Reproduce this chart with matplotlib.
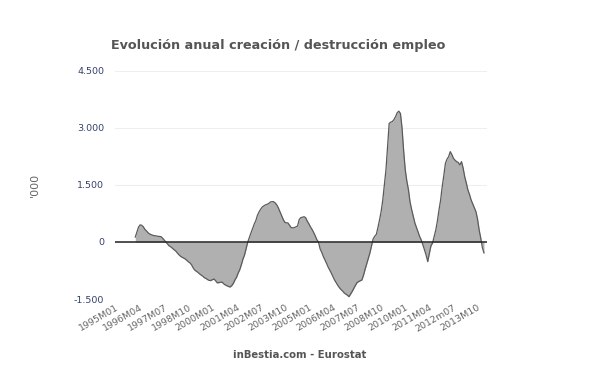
import numpy as np
import matplotlib
matplotlib.use('Agg')
import matplotlib.pyplot as plt

matplotlib.rc('font', family='DejaVu Sans')

# Datos (miles), mensual desde 1996M01
start_label = '1996M01'
empleo = [
    130, 260, 390, 450, 440, 400, 330, 290, 240, 210, 190, 175,            # 1996
    165, 160, 150, 145, 140, 100, 50, 0, -50, -100, -125, -160,            # 1997
    -200, -230, -280, -330, -370, -400, -420, -445, -480, -520, -550, -600,  # 1998
    -680, -740, -770, -800, -840, -870, -900, -940, -960, -990, -1010, -1015,  # 1999
    -990, -975, -1020, -1075, -1070, -1060, -1055, -1100, -1130, -1150, -1170, -1185,  # 2000
    -1150, -1090, -1000, -930, -820, -730, -600, -450, -340, -170, 0, 120,  # 2001
    240, 350, 470, 560, 700, 790, 860, 920, 950, 975, 990, 1010,           # 2002
    1050, 1060, 1060, 1030, 980, 900, 800, 700, 600, 520, 505, 500,        # 2003
    440, 380, 370, 380, 400, 420, 590, 640, 650, 665, 640, 550,            # 2004
    480, 400, 330, 250, 160, 60, 0, -180, -270, -380, -470, -560,          # 2005
    -660, -740, -820, -910, -1000, -1070, -1140, -1200, -1250, -1290, -1340, -1370,  # 2006
    -1400, -1438, -1370, -1300, -1220, -1140, -1070, -1040, -1020, -1000, -880, -720,  # 2007
    -580, -430, -290, -100, 80, 150, 200, 380, 580, 800, 1100, 1500,       # 2008
    1900, 2500, 3120, 3150, 3170, 3220, 3300, 3400, 3440, 3380, 3000, 2400,  # 2009
    1900, 1600, 1370, 1050, 850, 680, 500, 380, 260, 140, 50, -80,         # 2010
    -210, -350, -517, -300, -100, -26, 150, 315, 550, 842, 1100, 1455,     # 2011
    1750, 2069, 2180, 2244, 2376, 2300, 2201, 2150, 2113, 2090, 2025, 2113,  # 2012
    1950, 1718, 1550, 1368, 1250, 1105, 1000, 900, 797, 600, 315, 100,     # 2013
    -150, -289,                                                            # 2014
]
tick_labels = ['1995M01', '1996M04', '1997M07', '1998M10', '2000M01', '2001M04',
               '2002M07', '2003M10', '2005M01', '2006M04', '2007M07', '2008M10',
               '2010M01', '2011M04', '2012m07', '2013M10']
y_ticks = [-1500, 0, 1500, 3000, 4500]


def month_index(label):
    # meses desde 1995M01
    return (int(label[:4]) - 1995) * 12 + int(label[5:]) - 1


x = month_index(start_label) + np.arange(len(empleo))
y = np.array(empleo)

fig = plt.figure(figsize=(6, 3.71), dpi=100)
ax = fig.add_axes([0.192, 0.194, 0.62, 0.615])

ax.fill_between(x, y, 0, color='#b0b0b0', linewidth=0)
ax.plot(x, y, color='#5a5a5a', linewidth=0.9)
ax.axhline(0, color='#222222', linewidth=1.1)

ax.set_xlim(-0.5, 231)
ax.set_ylim(-1500, 4500)

ax.set_yticks(y_ticks)
ax.set_yticklabels([f'{v:,}'.replace(',', '.') for v in y_ticks],
                   color='#34406b', fontsize=6.8)
ax.yaxis.grid(True, color='#eeeeee', linewidth=0.8)
ax.set_axisbelow(True)

ax.set_xticks([month_index(l) for l in tick_labels])
ax.set_xticklabels(tick_labels, rotation=30, ha='right', va='top',
                   rotation_mode='anchor', color='#666666', fontsize=6.8)
ax.tick_params(axis='both', length=0)
ax.tick_params(axis='x', pad=3)
ax.tick_params(axis='y', pad=8)

for side in ['top', 'right', 'left', 'bottom']:
    ax.spines[side].set_visible(False)

fig.text(35 / 600, 1 - 185 / 371, "'000", rotation=90, color='#666666',
         fontsize=8, ha='center', va='center')

fig.text(278 / 600, 1 - 45 / 371, 'Evolución anual creación / destrucción empleo',
         ha='center', va='center', fontsize=9.2, fontweight='bold', color='#555555')
fig.text(0.5, 1 - 355 / 371, 'inBestia.com - Eurostat', ha='center', va='center',
         fontsize=7.3, fontweight='bold', color='#555555')

plt.savefig('out.png', dpi=100)
plt.close()
